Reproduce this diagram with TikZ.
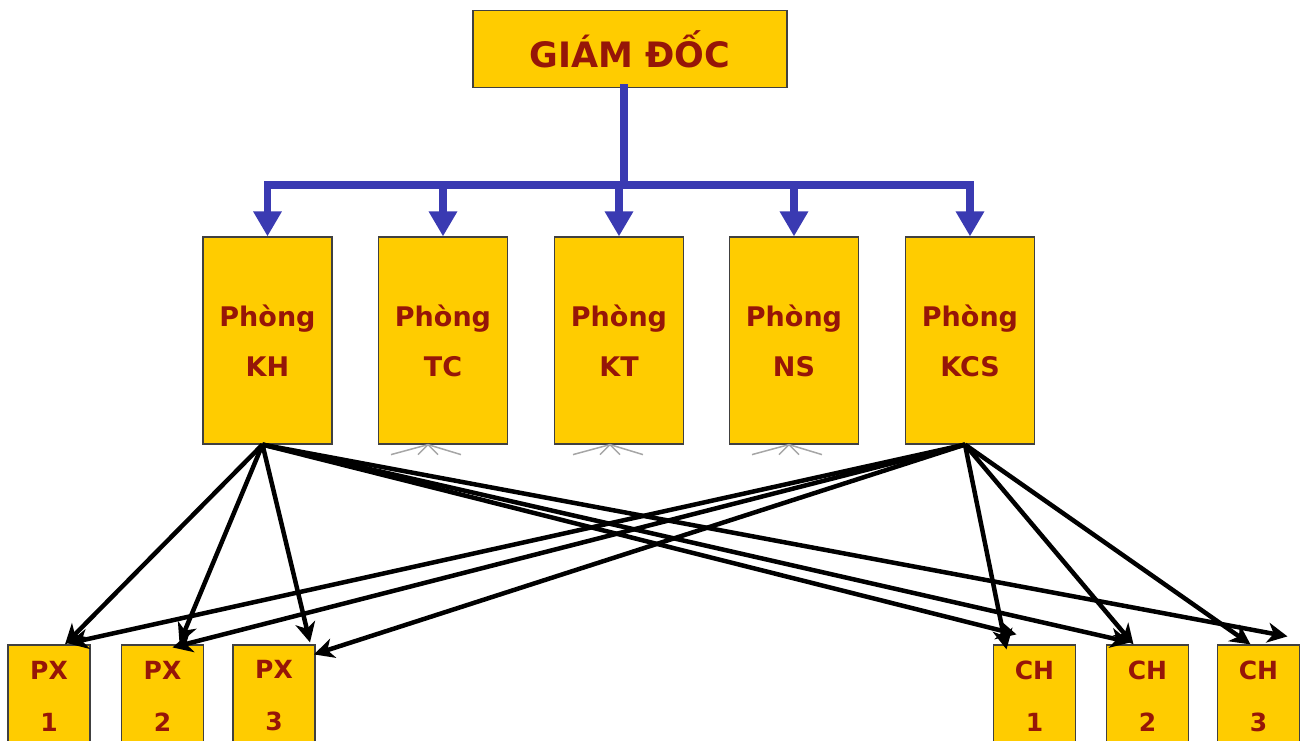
\documentclass[tikz,border=0pt]{standalone}
\usepackage{fontspec}
\setmainfont{DejaVu Sans}
\usetikzlibrary{arrows.meta}
\definecolor{boxfill}{RGB}{255,204,0}
\definecolor{boxtext}{RGB}{150,22,8}
\definecolor{busblue}{RGB}{58,58,178}
\tikzset{
  box/.style={draw=black!75,line width=1.2pt,fill=boxfill,text=boxtext,align=center,inner sep=0pt},
  topbox/.style={box,minimum width=314pt,minimum height=77pt,font=\bfseries\fontsize{35}{40}\selectfont},
  deptbox/.style={box,minimum width=129pt,minimum height=207pt,font=\bfseries\fontsize{27}{50}\selectfont},
  unitbox/.style={box,minimum width=82pt,minimum height=102pt,font=\bfseries\fontsize{25}{52}\selectfont},
  bus/.style={busblue,line width=7.5pt,line cap=rect},
  link/.style={line width=4.5pt,-{Stealth[length=20pt,width=20pt,inset=6pt]}},
  foot/.style={gray!70,line width=1.5pt}
}

\begin{document}
\begin{tikzpicture}[x=1pt,y=-1pt]
    \clip (0,0) rectangle (1301,740);
    \node[topbox] (gd) at (630,49) {GIÁM ĐỐC};

    \node[deptbox] (kh)  at (267.5,340.5) {Phòng\\KH};
    \node[deptbox] (tc)  at (443,340.5)   {Phòng\\TC};
    \node[deptbox] (kt)  at (619,340.5)   {Phòng\\KT};
    \node[deptbox] (ns)  at (794,340.5)   {Phòng\\NS};
    \node[deptbox] (kcs) at (970,340.5)   {Phòng\\KCS};

    \node[unitbox] (px1) at (49,696)     {PX\\1};
    \node[unitbox] (px2) at (162.5,696)  {PX\\2};
    \node[unitbox] (px3) at (274,696)    {PX\\3};
    \node[unitbox] (ch1) at (1034.5,696) {CH\\1};
    \node[unitbox] (ch2) at (1147.5,696) {CH\\2};
    \node[unitbox] (ch3) at (1258.5,696) {CH\\3};

    % blue bus
    \coordinate (hub) at (624,185);
    \draw[bus] ([xshift=-6pt]gd.south) -- (hub);
    \draw[bus] (hub -| kh.north) -- (hub -| kcs.north);
    \foreach \d in {kh,tc,kt,ns,kcs}
        \draw[bus,line cap=butt,-{Triangle[length=25pt,width=27pt]}] (hub -| \d.north) -- (\d.north);

    % grey marks under the boxes
    \foreach \d/\s in {tc/-15,kt/-9,ns/-5}{
        \coordinate (f) at ([xshift=\s pt]\d.south);
        \foreach \e in {-37,-10,10,33}
            \draw[foot] (f) -- ([shift={(\e,10)}]f);
    }

    % links from KH
    \coordinate (khs) at ([xshift=-5pt]kh.south);
    \draw[link] (khs) -- ([xshift=16pt]px1.north);
    \draw[link] (khs) -- ([xshift=17pt,yshift=1pt]px2.north);
    \draw[link] (khs) -- ([xshift=36pt,yshift=2pt]px3.north);
    \draw[link] (khs) -- ([xshift=-18pt,yshift=10pt]ch1.north);
    \draw[link] (khs) -- ([xshift=-17pt,yshift=2pt]ch2.north);
    \draw[link] (khs) -- ([xshift=29pt,yshift=8pt]ch3.north);

    % links from KCS
    \coordinate (kcss) at ([xshift=-5pt]kcs.south);
    \draw[link] (kcss) -- ([xshift=19pt,yshift=1pt]px1.north);
    \draw[link] (kcss) -- ([xshift=10pt,yshift=-3pt]px2.north);
    \draw[link] (kcss) -- ([xshift=40pt,yshift=-10pt]px3.north);
    \draw[link] (kcss) -- ([xshift=-28pt,yshift=-5pt]ch1.north);
    \draw[link] (kcss) -- ([xshift=-14pt]ch2.north);
    \draw[link] (kcss) -- ([xshift=-8pt]ch3.north);
\end{tikzpicture}
\end{document}
